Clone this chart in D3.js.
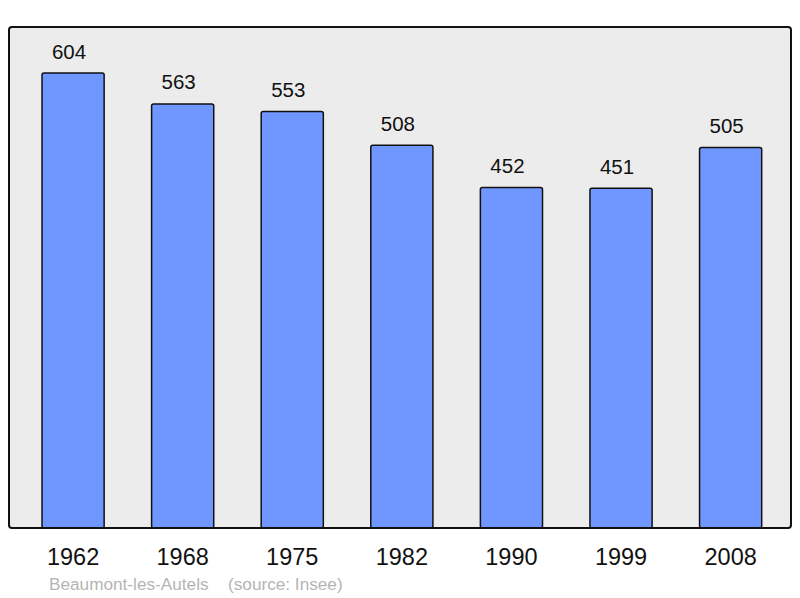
<!DOCTYPE html>
<html lang="fr">
<head>
<meta charset="UTF-8">
<title>Beaumont-les-Autels population</title>
<script src="https://d3js.org/d3.v7.min.js"></script>
<style>
  body { margin: 0; background: #ffffff; }
  svg { display: block; font-family: 'Liberation Sans', Arial, sans-serif; }
</style>
</head>
<body>
<div id="chart"></div>
<script>
  const years = ["1962", "1968", "1975", "1982", "1990", "1999", "2008"];
  const population = [604, 563, 553, 508, 452, 451, 505];
  const townName = "Beaumont-les-Autels";
  const sourceNote = "(source: Insee)";

  const width = 800, height = 598;
  const frame = { left: 9, top: 27, right: 791, bottom: 528 };

  const svg = d3.select("#chart").append("svg")
      .attr("width", width)
      .attr("height", height);

  // grey plot background
  svg.append("rect")
      .attr("x", frame.left)
      .attr("y", frame.top)
      .attr("width", frame.right - frame.left)
      .attr("height", frame.bottom - frame.top)
      .attr("rx", 3)
      .attr("fill", "#ececec")
      .attr("stroke", "none");

  const x = d3.scaleBand()
      .domain(years)
      .range([42, 761.7])
      .paddingInner(0.433)
      .paddingOuter(0);

  // 604 -> 455px tall bar
  const y = d3.scaleLinear()
      .domain([0, 604])
      .range([frame.bottom, 73]);

  const bars = svg.append("g");
  bars.selectAll("rect")
      .data(years)
      .enter().append("rect")
      .attr("x", d => x(d))
      .attr("y", (d, i) => y(population[i]))
      .attr("width", x.bandwidth())
      .attr("height", (d, i) => frame.bottom - y(population[i]))
      .attr("rx", 2)
      .attr("fill", "#7097ff")
      .attr("stroke", "#111")
      .attr("stroke-width", 1.5);

  // value labels sit a little left of bar centre, as in the original
  svg.append("g").selectAll("text")
      .data(years)
      .enter().append("text")
      .attr("x", d => x(d) + x.bandwidth() / 2 - 4)
      .attr("y", (d, i) => y(population[i]) - 14.5)
      .attr("text-anchor", "middle")
      .attr("font-size", 20.5)
      .attr("fill", "#111")
      .text((d, i) => population[i]);

  // frame outline drawn over bars
  svg.append("rect")
      .attr("x", frame.left)
      .attr("y", frame.top)
      .attr("width", frame.right - frame.left)
      .attr("height", frame.bottom - frame.top)
      .attr("rx", 3)
      .attr("fill", "none")
      .attr("stroke", "#111")
      .attr("stroke-width", 2);

  const xAxis = d3.axisBottom(x).tickSize(0).tickPadding(0);
  const axisG = svg.append("g")
      .attr("transform", `translate(0,${frame.bottom})`)
      .call(xAxis);
  axisG.select(".domain").remove();
  axisG.selectAll("text")
      .attr("dy", null)
      .attr("y", 37)
      .attr("font-size", 23.5)
      .attr("font-family", "'Liberation Sans', Arial, sans-serif")
      .attr("fill", "#111");

  svg.append("text")
      .attr("x", 49)
      .attr("y", 590)
      .attr("font-size", 17.2)
      .attr("fill", "#b4b4b4")
      .text(townName);
  svg.append("text")
      .attr("x", 228)
      .attr("y", 590)
      .attr("font-size", 17.2)
      .attr("fill", "#b4b4b4")
      .text(sourceNote);
</script>
</body>
</html>
